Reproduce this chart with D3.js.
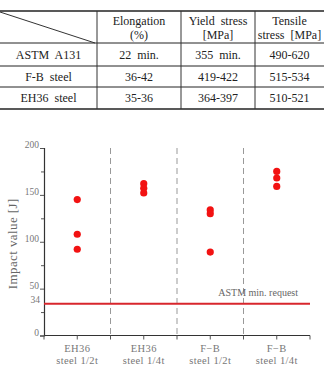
<!DOCTYPE html>
<html>
<head>
<meta charset="utf-8">
<script src="https://cdn.jsdelivr.net/npm/d3@7"></script>
<style>
  body { margin: 0; background: #fff; }
  svg { display: block; }
  svg text { white-space: pre; }
</style>
</head>
<body>
<div id="chart"></div>
<script>
// table data
var tableHeaders = [["Elongation", "(%)"], ["Yield  stress", "[MPa]"], ["Tensile", "stress  [MPa]"]];
var tableRowNames = ["ASTM  A131", "F-B  steel", "EH36  steel"];
var tableValues = [
  ["22  min.", "355  min.", "490-620"],
  ["36-42", "419-422", "515-534"],
  ["35-36", "364-397", "510-521"]
];

// chart data
var categories = ["EH36|steel 1/2t", "EH36|steel 1/4t", "F−B|steel 1/2t", "F−B|steel 1/4t"];
var impactValues = [
  [145, 108, 92],
  [162, 157, 152],
  [134, 130, 89],
  [175, 168, 159]
];
var yTicks = [0, 50, 100, 150, 200];
var yMinorTicks = [25, 75, 125, 175];
var astmMin = 34;

var W = 324, H = 371;
var svg = d3.select("#chart").append("svg").attr("width", W).attr("height", H);

// ---- table ----
var colX = [0, 97, 181, 255, 324];
var rowY = [11, 43, 66, 87, 109];
var tbl = svg.append("g").style("font-family", "'Liberation Serif', 'Times New Roman', serif")
  .style("font-size", "12px").style("fill", "#222");

// horizontal lines
rowY.forEach(function (y, i) {
  tbl.append("line").attr("x1", 0).attr("x2", W).attr("y1", y).attr("y2", y)
    .attr("stroke", "#222").attr("stroke-width", (i === 0 || i === rowY.length - 1) ? 1.6 : 1);
});
// vertical lines
colX.slice(1, 4).forEach(function (x) {
  tbl.append("line").attr("x1", x).attr("x2", x).attr("y1", rowY[0]).attr("y2", rowY[4])
    .attr("stroke", "#333").attr("stroke-width", 1);
});
// diagonal in corner cell
tbl.append("line").attr("x1", 0).attr("y1", 12).attr("x2", colX[1] - 2).attr("y2", rowY[1])
  .attr("stroke", "#333").attr("stroke-width", 1);

tableHeaders.forEach(function (h, i) {
  var cx = (colX[i + 1] + colX[i + 2]) / 2;
  tbl.append("text").attr("x", cx).attr("y", 25).attr("text-anchor", "middle").text(h[0]);
  tbl.append("text").attr("x", cx).attr("y", 39).attr("text-anchor", "middle").text(h[1]);
});
tableRowNames.forEach(function (name, r) {
  var y = (rowY[r + 1] + rowY[r + 2]) / 2 + 4;
  tbl.append("text").attr("x", (colX[0] + colX[1]) / 2).attr("y", y).attr("text-anchor", "middle").text(name);
  tableValues[r].forEach(function (v, c) {
    tbl.append("text").attr("x", (colX[c + 1] + colX[c + 2]) / 2).attr("y", y)
      .attr("text-anchor", "middle").text(v);
  });
});

// ---- chart ----
var x0 = 44, x1 = 310, yTop = 148, yBot = 335.5;
var x = d3.scaleBand().domain(categories).range([x0, x1]);
var y = d3.scaleLinear().domain([0, 200]).range([yBot, yTop]);

var g = svg.append("g").style("font-family", "'Liberation Serif', 'Times New Roman', serif");

// dashed dividers
categories.slice(1).forEach(function (c) {
  g.append("line").attr("x1", x(c)).attr("x2", x(c)).attr("y1", yTop).attr("y2", yBot)
    .attr("stroke", "#999").attr("stroke-width", 1).attr("stroke-dasharray", "6,4");
});

// y axis
var yAxis = d3.axisLeft(y).tickValues(yTicks).tickSize(4).tickPadding(1);
var ya = g.append("g").attr("transform", "translate(" + x0 + ",0)").call(yAxis);
ya.select(".domain").attr("stroke", "#333").attr("stroke-width", 1.2);
ya.selectAll(".tick line").attr("stroke", "#555");
ya.selectAll(".tick text").style("font-size", "9.5px").style("fill", "#777")
  .style("font-family", "'Liberation Serif', serif").attr("dy", "-0.05em");
var yMinor = g.append("g").attr("transform", "translate(" + x0 + ",0)")
  .call(d3.axisLeft(y).tickValues(yMinorTicks).tickSize(3).tickFormat(""));
yMinor.select(".domain").remove();
yMinor.selectAll(".tick line").attr("stroke", "#555");

// label for 34
g.append("text").attr("x", x0 - 4).attr("y", y(astmMin) - 1).attr("text-anchor", "end")
  .style("font-size", "9.5px").style("fill", "#777").text(astmMin);

// x axis line + ticks
g.append("line").attr("x1", x0).attr("x2", x1).attr("y1", yBot).attr("y2", yBot)
  .attr("stroke", "#333").attr("stroke-width", 1.2);
var xTickPos = [];
categories.forEach(function (c) { xTickPos.push(x(c)); xTickPos.push(x(c) + x.bandwidth() / 2); });
xTickPos.push(x1);
g.selectAll(".xtick").data(xTickPos).enter().append("line").attr("class", "xtick")
  .attr("x1", function (d) { return d; }).attr("x2", function (d) { return d; })
  .attr("y1", yBot).attr("y2", yBot + 4).attr("stroke", "#555");

categories.forEach(function (c) {
  var parts = c.split("|");
  var cx = x(c) + x.bandwidth() / 2;
  g.append("text").attr("x", cx).attr("y", 352).attr("text-anchor", "middle")
    .style("font-size", "10.5px").style("fill", "#777").style("letter-spacing", "0.4px").text(parts[0]);
  g.append("text").attr("x", cx).attr("y", 363.5).attr("text-anchor", "middle")
    .style("font-size", "10.5px").style("fill", "#777").style("letter-spacing", "0.4px").text(parts[1]);
});

// y label
g.append("text").attr("transform", "translate(17," + ((y(0) + y(200)) / 2 + 2) + ") rotate(-90)")
  .attr("text-anchor", "middle").style("font-size", "13px").style("fill", "#666")
  .style("letter-spacing", "0.4px").text("Impact value [J]");

// ASTM min line
g.append("line").attr("x1", x0).attr("x2", x1).attr("y1", y(astmMin)).attr("y2", y(astmMin))
  .attr("stroke", "#d8262c").attr("stroke-width", 2);
g.append("text").attr("x", 298).attr("y", y(astmMin) - 8).attr("text-anchor", "end")
  .style("font-size", "10px").style("fill", "#666").text("ASTM min. request");

// points
var pts = [];
categories.forEach(function (c, i) {
  impactValues[i].forEach(function (v) { pts.push({ c: c, v: v }); });
});
g.selectAll(".pt").data(pts).enter().append("circle").attr("class", "pt")
  .attr("cx", function (d) { return x(d.c) + x.bandwidth() / 2; })
  .attr("cy", function (d) { return y(d.v); })
  .attr("r", 3.6).attr("fill", "#f21212");
</script>
</body>
</html>
